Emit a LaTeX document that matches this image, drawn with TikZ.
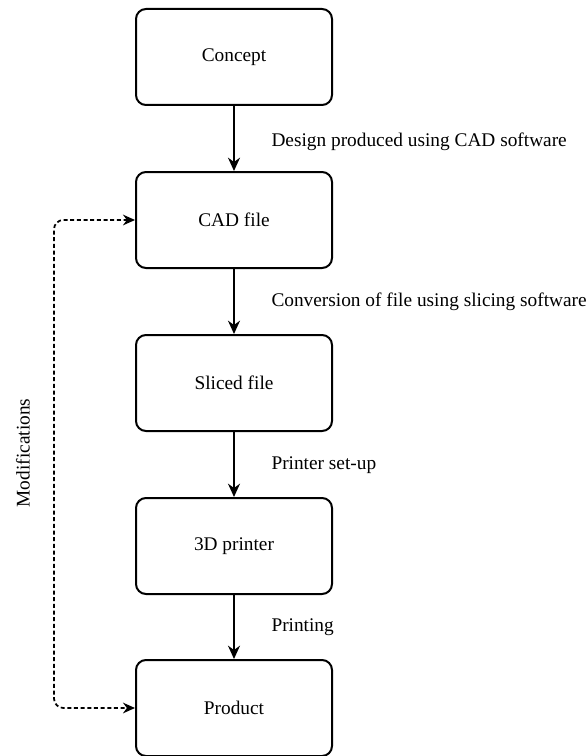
\documentclass[tikz,border=0pt]{standalone}
\usepackage{fontspec}
\setmainfont{Liberation Serif}
\usetikzlibrary{arrows.meta}

\tikzset{every picture/.style={line width=0.75pt}}
\tikzset{
  stagebox/.style={draw, line width=1.5pt, rounded corners=7.5pt, minimum width=147pt, minimum height=72pt, inner sep=0.75pt, font=\fontsize{14.5}{16}\selectfont},
  steptext/.style={anchor=west, inner sep=0.75pt, font=\fontsize{14.5}{16}\selectfont},
  flowarrow/.style={-{Stealth[length=10pt,width=9pt]}, line width=1.3pt},
  modarrow/.style={{Stealth[length=9pt,width=8pt]}-{Stealth[length=9pt,width=8pt]}, line width=1.3pt, dash pattern=on 3pt off 2pt, rounded corners=7pt}
}

\begin{document}
\begin{tikzpicture}[x=0.75pt,y=0.75pt,yscale=-1,xscale=1]
        \useasboundingbox (0,0) rectangle (588,756);
        
        %Shape: Rounded Rect
        \node [stagebox] (concept) at (234,57) {Concept};
        %Shape: Rounded Rect
        \node [stagebox] (cad) at (234,220) {CAD file};
        %Shape: Rounded Rect
        \node [stagebox] (sliced) at (234,383) {Sliced file};
        %Shape: Rounded Rect
        \node [stagebox] (printer) at (234,546) {3D printer};
        %Shape: Rounded Rect
        \node [stagebox] (product) at (234,708) {Product};
        
        %Straight Lines
        \draw [flowarrow] (concept) -- (cad);
        %Straight Lines
        \draw [flowarrow] (cad) -- (sliced);
        %Straight Lines
        \draw [flowarrow] (sliced) -- (printer);
        %Straight Lines
        \draw [flowarrow] (printer) -- (product);
        
        %Dashed Lines
        \coordinate (loop) at (54,464);
        \draw [modarrow] (cad.west) -- (cad.west -| loop) -- (product.west -| loop) -- (product.west);
        
        % Text Node
        \node [steptext] (design) at (270,142) {Design produced using CAD software};
        % Text Node
        \node [steptext] (convert) at (270,302) {Conversion of file using slicing software};
        % Text Node
        \node [steptext] (setup) at (270,465) {Printer set-up};
        % Text Node
        \node [steptext] (printing) at (270,627) {Printing};
        % Text Node
        \node [inner sep=0.75pt, rotate=90, font=\fontsize{14.5}{16}\selectfont] (mods) at (23,453) {Modifications};
        
\end{tikzpicture}
\end{document}
